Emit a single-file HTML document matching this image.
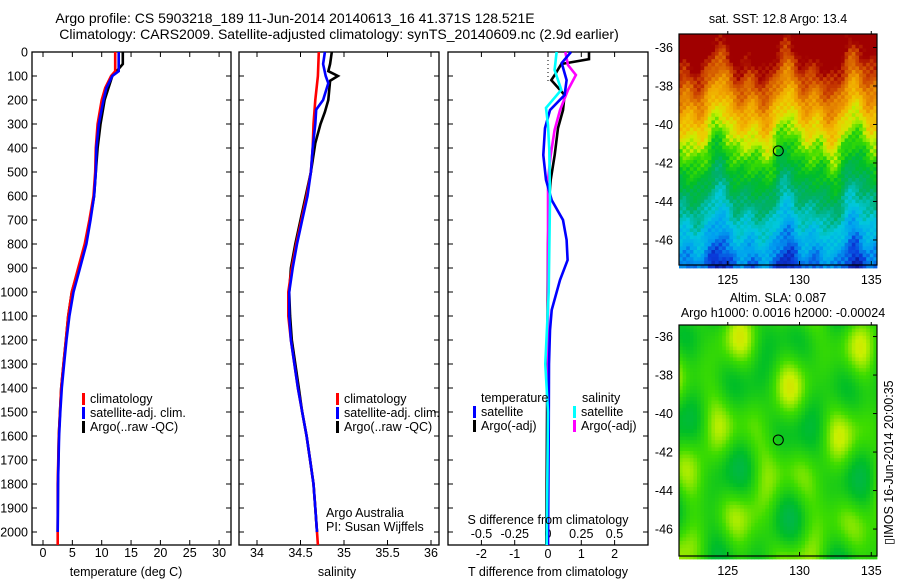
<!DOCTYPE html>
<html><head><meta charset="utf-8">
<style>
html,body{margin:0;padding:0;background:#fff;}
svg{display:block;font-family:"Liberation Sans",sans-serif;}
text{font-size:12.5px;fill:#000;}
</style></head>
<body>
<svg id="fig" width="900" height="580" viewBox="0 0 900 580" xmlns="http://www.w3.org/2000/svg">
<rect width="900" height="580" fill="#fff"/>
<text x="295" y="23" text-anchor="middle" style="font-size:14px">Argo profile: CS 5903218_189 11-Jun-2014 20140613_16 41.371S 128.521E</text>
<text x="339" y="39" text-anchor="middle" style="font-size:14px">Climatology: CARS2009. Satellite-adjusted climatology: synTS_20140609.nc (2.9d earlier)</text>
<g id="maps"></g>
<g id="panels"></g>
<text transform="translate(893,545) rotate(-90)" style="font-size:12.5px">▯IMOS 16-Jun-2014 20:00:35</text>
</svg>
<script>
// ---- data ----
const depthTicks=[0,100,200,300,400,500,600,700,800,900,1000,1100,1200,1300,1400,1500,1600,1700,1800,1900,2000];
const tempTicks=[0,5,10,15,20,25,30];
const salTicks=[34,34.5,35,35.5,36];
const tdiffTicks=[-2,-1,0,1,2];
const sdiffTicks=[-0.5,-0.25,0,0.25,0.5];
const sdiffLabels=["-0.5","-0.25","0","0.25","0.5"];
const latTicks=[-36,-38,-40,-42,-44,-46];
const lonTicks=[125,130,135];

const tClimD=[0,80,100,150,200,300,400,500,600,700,800,900,1000,1100,1200,1300,1400,1500,1600,1800,2000,2054];
const tClimV=[12.3,12.3,11.6,10.6,10.0,9.3,9.0,8.9,8.6,7.9,7.1,6.0,4.9,4.3,3.9,3.5,3.1,2.9,2.7,2.5,2.5,2.5];
const tSatD=[0,80,100,150,200,300,400,500,600,700,800,900,1000,1100,1200,1300,1400,1500,1600,1800,2000];
const tSatV=[12.9,12.9,11.8,10.8,10.3,9.5,9.1,9.0,8.7,8.1,7.4,6.3,5.2,4.5,4.0,3.6,3.2,2.95,2.75,2.55,2.5];
const tArgoD=[0,50,70,100,200,300,400,500,600,700,800,900,1000,1100,1200,1300,1400,1500,1600,1800,2000];
const tArgoV=[13.6,13.6,12.9,11.8,10.5,9.8,9.3,9.0,8.7,8.0,7.2,6.1,4.9,4.3,3.9,3.5,3.1,2.9,2.7,2.55,2.5];

const sClimD=[0,100,200,300,400,500,600,700,800,900,1000,1100,1200,1300,1400,1500,1600,1700,1800,1900,2000,2054];
const sClimV=[34.71,34.70,34.67,34.65,34.64,34.62,34.57,34.51,34.45,34.40,34.36,34.36,34.39,34.43,34.47,34.52,34.57,34.61,34.65,34.67,34.69,34.70];
const sSatD=[0,50,100,130,200,240,300,400,500,600,700,800,900,1000,1100,1200,1300,1400,1500,1600,1700,1800,1900,2000];
const sSatV=[34.78,34.76,34.79,34.82,34.76,34.68,34.67,34.64,34.62,34.58,34.52,34.46,34.41,34.37,34.37,34.39,34.43,34.47,34.52,34.57,34.61,34.65,34.67,34.69];
const sArgoD=[0,50,80,100,120,200,250,300,380,500,600,700,800,900,1000,1100,1200,1300,1400,1500,1600,1700,1800,1900,2000];
const sArgoV=[34.86,34.84,34.82,34.93,34.84,34.82,34.78,34.73,34.67,34.62,34.56,34.50,34.44,34.39,34.37,34.38,34.40,34.44,34.48,34.52,34.57,34.61,34.65,34.67,34.69];

const dtSatD=[0,46,117,179,242,317,429,533,617,700,783,867,950,1075,1160,1300,1600,2054];
const dtSatV=[0.69,0.41,0.56,0.5,0.06,-0.09,-0.14,-0.06,0.11,0.45,0.56,0.59,0.36,0.11,0.06,0.03,0.02,0.0];
const dtArgoD=[0,30,50,96,117,179,242,317,429,533,617,800,2054];
const dtArgoV=[1.23,1.23,0.4,0.2,0.1,0.5,0.45,0.3,0.2,0.08,0.03,0.0,-0.05];
const dsSatD=[0,75,158,233,304,408,617,1000,1300,1500,2054];
const dsSatV=[0.065,0.05,0.1,-0.015,0,0.01,0.015,0.005,-0.02,0,-0.01];
const dsArgoD=[0,54,96,158,242,325,429,533,2054];
const dsArgoV=[0.13,0.15,0.21,0.15,0.09,0.05,0.02,0.0,0.0];

const argoLon=128.521, argoLat=-41.371;

// ---- helpers ----
const NS="http://www.w3.org/2000/svg";
function mk(tag,attrs,parent,txt){const e=document.createElementNS(NS,tag);for(const k in attrs)e.setAttribute(k,attrs[k]);if(txt!==undefined)e.textContent=txt;parent.appendChild(e);return e;}
const panels=document.getElementById('panels');
const maps=document.getElementById('maps');
const Y0=52, PY=0.24, YB=545;
const yD=d=>Y0+d*PY;

function linePath(D,V,xf,color,name,g,w){
  let p='';D.forEach((d,i)=>{p+=(i?'L':'M')+xf(V[i]).toFixed(1)+','+yD(d).toFixed(1);});
  const e=mk('path',{d:p,fill:'none',stroke:color,'stroke-width':w||2.6},g);
  
  
}
function frame(x0,x1,name){
  const r=mk('rect',{x:x0,y:Y0,width:x1-x0,height:YB-Y0,fill:'none',stroke:'#000','stroke-width':1.3},panels);
  
  
}
function depthTickMarks(x0,x1){depthTicks.forEach(d=>{mk('line',{x1:x0,x2:x0+5,y1:yD(d),y2:yD(d),stroke:'#000'},panels);mk('line',{x1:x1,x2:x1-5,y1:yD(d),y2:yD(d),stroke:'#000'},panels);});}
function xTicks(ticks,xf,labels,ly,name){
  ticks.forEach((t,i)=>{const x=xf(t);mk('line',{x1:x,x2:x,y1:YB,y2:YB-5,stroke:'#000'},panels);mk('line',{x1:x,x2:x,y1:Y0,y2:Y0+5,stroke:'#000'},panels);
    const tx=mk('text',{x:x,y:ly,'text-anchor':'middle'},panels,labels?labels[i]:String(t));
    
    });
}
function legend(x,y,items,name){
  items.forEach((it,i)=>{const yy=y+i*14;mk('rect',{x:x,y:yy-10,width:3,height:12,fill:it[0]},panels);
    const t=mk('text',{x:x+8,y:yy},panels,it[1]);
    
    });
}

// ---- panel 1: temperature ----
const xT=v=>43+v*5.87;
frame(32,231,'temperature-panel');
depthTickMarks(32,231);
depthTicks.forEach(d=>{const t=mk('text',{x:28,y:yD(d)+4.5,'text-anchor':'end'},panels,String(d));
  
  });
xTicks(tempTicks,xT,null,557,'temperature-tick-label');
linePath(tArgoD,tArgoV,xT,'#000','temp-argo-line',panels);
linePath(tClimD,tClimV,xT,'#f00','temp-climatology-line',panels);
linePath(tSatD,tSatV,xT,'#00f','temp-satellite-line',panels);
legend(82,403,[['#f00','climatology'],['#00f','satellite-adj. clim.'],['#000','Argo(..raw -QC)']],'temp-legend-entry');
let t1=mk('text',{x:126,y:576,'text-anchor':'middle'},panels,'temperature (deg C)');


// ---- panel 2: salinity ----
const xS=v=>257+(v-34)*87;
frame(239,439,'salinity-panel');
depthTickMarks(239,439);
xTicks(salTicks,xS,null,557,'salinity-tick-label');
linePath(sArgoD,sArgoV,xS,'#000','sal-argo-line',panels);
linePath(sClimD,sClimV,xS,'#f00','sal-climatology-line',panels);
linePath(sSatD,sSatV,xS,'#00f','sal-satellite-line',panels);
legend(336,403,[['#f00','climatology'],['#00f','satellite-adj. clim.'],['#000','Argo(..raw -QC)']],'sal-legend-entry');
let t2=mk('text',{x:337,y:576,'text-anchor':'middle'},panels,'salinity');

let a1=mk('text',{x:326,y:517},panels,'Argo Australia');
let a2=mk('text',{x:326,y:531},panels,'PI: Susan Wijffels');

// ---- panel 3: differences ----
const xDT=v=>548+v*33.3;
const xDS=v=>548+v*133;
frame(448,648,'difference-panel');
depthTickMarks(448,648);
xTicks(tdiffTicks,xDT,null,558,'tdiff-tick-label');
sdiffTicks.forEach((t,i)=>{const tx=mk('text',{x:xDS(t),y:538,'text-anchor':'middle'},panels,sdiffLabels[i]);
  });
mk('line',{x1:548,x2:548,y1:Y0,y2:82,stroke:'#000','stroke-dasharray':'1,3'},panels);
linePath(dtArgoD,dtArgoV,xDT,'#000','tdiff-argo-line',panels);
linePath(dsArgoD,dsArgoV,xDS,'#f0f','sdiff-argo-line',panels);
linePath(dtSatD,dtSatV,xDT,'#00f','tdiff-satellite-line',panels);
linePath(dsSatD,dsSatV,xDS,'#0ff','sdiff-satellite-line',panels);
let h1=mk('text',{x:481,y:402},panels,'temperature');
let h2=mk('text',{x:582,y:402},panels,'salinity');
legend(473,416,[['#00f','satellite'],['#000','Argo(-adj)']],'tdiff-legend-entry');
legend(573,416,[['#0ff','satellite'],['#f0f','Argo(-adj)']],'sdiff-legend-entry');
let s1=mk('text',{x:548,y:524,'text-anchor':'middle'},panels,'S difference from climatology');
let s2=mk('text',{x:548,y:576,'text-anchor':'middle'},panels,'T difference from climatology');

// ---- maps ----
const mapX0=679,mapX1=877,lon0=121.6,lon1=135.4;
const xLon=l=>mapX0+(l-lon0)*(mapX1-mapX0)/(lon1-lon0);
function jet(v){
  const stops=[[0,[10,20,150]],[0.08,[10,60,220]],[0.18,[0,160,240]],[0.28,[0,200,220]],[0.38,[0,175,110]],[0.48,[0,190,40]],[0.56,[60,220,0]],[0.63,[200,240,0]],[0.7,[240,200,0]],[0.78,[240,160,0]],[0.86,[220,110,0]],[0.93,[200,60,0]],[1,[160,0,0]]];
  v=Math.max(0,Math.min(1,v));
  for(let i=1;i<stops.length;i++){if(v<=stops[i][0]){const a=stops[i-1],b=stops[i],f=(v-a[0])/(b[0]-a[0]);return 'rgb('+a[1].map((c,k)=>Math.round(c+(b[1][k]-c)*f)).join(',')+')';}}
  return 'rgb(160,0,0)';
}
function drawMap(top,bot,latTop,latBot,field,name){
  const g=mk('g',{},maps);
  
  
  const yLat=l=>top+(latTop-l)*(bot-top)/(latTop-latBot);
  const cw=3.6,ch=3.6;
  for(let y=top;y<bot;y+=ch){for(let x=mapX0;x<mapX1;x+=cw){
    const lon=lon0+(x+cw/2-mapX0)/(mapX1-mapX0)*(lon1-lon0), lat=latTop-(y+ch/2-top)/(bot-top)*(latTop-latBot);
    mk('rect',{x:x.toFixed(1),y:y.toFixed(1),width:cw+0.4,height:ch+0.4,fill:jet(field(lon,lat))},g);}}
  mk('rect',{x:mapX0,y:top,width:mapX1-mapX0,height:bot-top,fill:'none',stroke:'#000','stroke-width':1.2},g);
  latTicks.forEach(l=>{const y=yLat(l);mk('line',{x1:mapX1,x2:mapX1-4,y1:y,y2:y,stroke:'#000'},g);
    const t=mk('text',{x:673,y:y+4.5,'text-anchor':'end'},g,String(l));
    });
  lonTicks.forEach(l=>{const x=xLon(l);mk('line',{x1:x,x2:x,y1:bot,y2:bot-4,stroke:'#000'},g);mk('line',{x1:x,x2:x,y1:top,y2:top-3,stroke:'#000'},g);
    const t=mk('text',{x:x,y:bot+19,'text-anchor':'middle'},g,String(l));
    });
  const c=mk('circle',{cx:xLon(argoLon),cy:yLat(argoLat),r:5,fill:'none',stroke:'#000','stroke-width':1},g);
  
  return {g,yLat};
}
const sst=(lon,lat)=>{
  const w=0.7*Math.sin(lon*1.3)+0.45*Math.sin(lon*2.7+2)+0.25*Math.sin(lon*4.3+lat*0.8);
  const n=0.025*Math.sin(lon*37.1+lat*53.3)+0.02*Math.sin(lon*71.7-lat*29.1);
  const d=lat+41.5+w;
  return 0.55+(d>0?d*0.09:d*0.075)+n;};
drawMap(34,265,-35.3,-47.3,sst,'sst-map');
let mt=mk('text',{x:778,y:23,'text-anchor':'middle'},maps,'sat. SST: 12.8 Argo: 13.4');
const sla=(lon,lat)=>{
  const v=Math.sin(lon*1.13+lat*0.41)*Math.sin(lat*0.93-lon*0.27)+0.6*Math.sin(lon*0.71-lat*1.37+1.2)+0.4*Math.sin(lon*2.3+lat*0.5);
  return 0.54+0.055*v;};
drawMap(325,556,-35.4,-47.4,sla,'sla-map');
let mt2=mk('text',{x:778,y:302,'text-anchor':'middle'},maps,'Altim. SLA: 0.087');
let mt3=mk('text',{x:783,y:317,'text-anchor':'middle'},maps,'Argo h1000: 0.0016 h2000: -0.00024');
</script>
</body></html>
